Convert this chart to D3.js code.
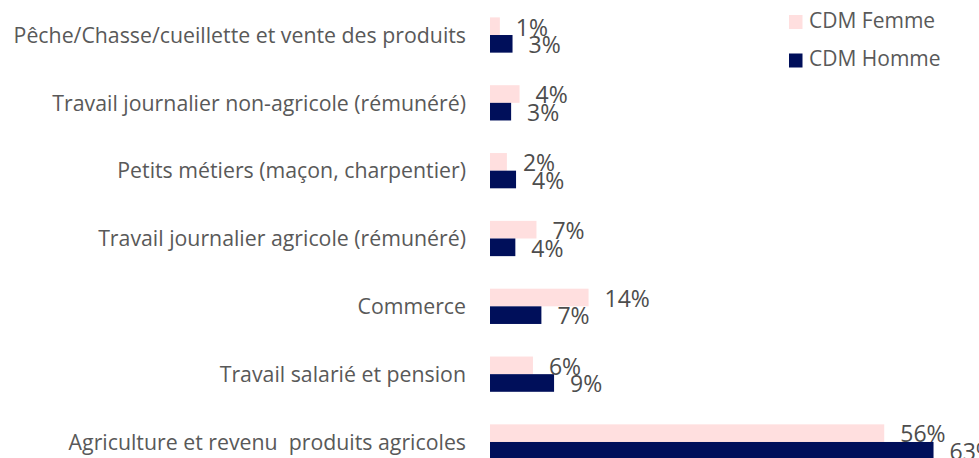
<!DOCTYPE html>
<html>
<head>
<meta charset="utf-8">
<style>
  body { margin: 0; background: #fff; }
  svg { display: block; font-family: "Open Sans", sans-serif; }
  text { white-space: pre; }
</style>
</head>
<body>
<div id="chart"></div>
<script src="https://d3js.org/d3.v7.min.js"></script>
<script>
    const width = 979;
    const height = 458;

    // data, top to bottom
    const categories = [
        "Pêche/Chasse/cueillette et vente des produits",
        "Travail journalier non-agricole (rémunéré)",
        "Petits métiers (maçon, charpentier)",
        "Travail journalier agricole (rémunéré)",
        "Commerce",
        "Travail salarié et pension",
        "Agriculture et revenu  produits agricoles"
    ];
    const seriesNames = ["CDM Femme", "CDM Homme"];
    const femme = [1.4, 4.2, 2.4, 6.6, 14.0, 6.1, 56.0];
    const homme = [3.2, 3.0, 3.7, 3.6, 7.3, 9.1, 63.0];
    const colors = ["#ffdfdf", "#000f5a"];

    const rows = categories.map((c, i) => ({ cat: c, values: [femme[i], homme[i]] }));

    const svg = d3.select("#chart").append("svg")
        .attr("width", width)
        .attr("height", height);

    const x = d3.scaleLinear().domain([0, 100]).range([490, 1194]);

    const y = d3.scaleBand()
        .domain(categories)
        .range([1.1, 475.9])
        .paddingInner(0.48)
        .paddingOuter(0.24);

    const ySub = d3.scaleBand()
        .domain([0, 1])
        .range([0, y.bandwidth()]);

    const textColor = "#595959";

    // category labels
    svg.append("g").selectAll("text")
        .data(categories)
        .join("text")
        .attr("x", 466)
        .attr("y", d => y(d) + y.bandwidth() / 2)
        .attr("dy", "0.36em")
        .attr("text-anchor", "end")
        .attr("font-size", "21.3px")
        .attr("fill", textColor)
        .text(d => d);

    const groups = svg.append("g").selectAll("g")
        .data(rows)
        .join("g")
        .attr("transform", d => `translate(0,${y(d.cat)})`);

    groups.selectAll("rect")
        .data(d => d.values)
        .join("rect")
        .attr("x", x(0))
        .attr("y", (d, i) => ySub(i))
        .attr("width", d => x(d) - x(0))
        .attr("height", ySub.bandwidth())
        .attr("fill", (d, i) => colors[i]);

    groups.selectAll("text")
        .data(d => d.values)
        .join("text")
        .attr("x", d => x(d) + 16)
        .attr("y", (d, i) => ySub(i) + ySub.bandwidth() + 0.5)
        .attr("font-size", "23px")
        .attr("fill", "#4d4d4d")
        .text(d => Math.round(d) + "%");

    // legend
    const legend = svg.append("g").selectAll("g")
        .data(seriesNames)
        .join("g")
        .attr("transform", (d, i) => `translate(789,${15 + i * 38.5})`);

    legend.append("rect")
        .attr("width", 13.5)
        .attr("height", 14)
        .attr("fill", (d, i) => colors[i]);

    legend.append("text")
        .attr("x", 20)
        .attr("y", 12.8)
        .attr("font-size", "21px")
        .attr("fill", textColor)
        .text(d => d);
</script>
</body>
</html>
